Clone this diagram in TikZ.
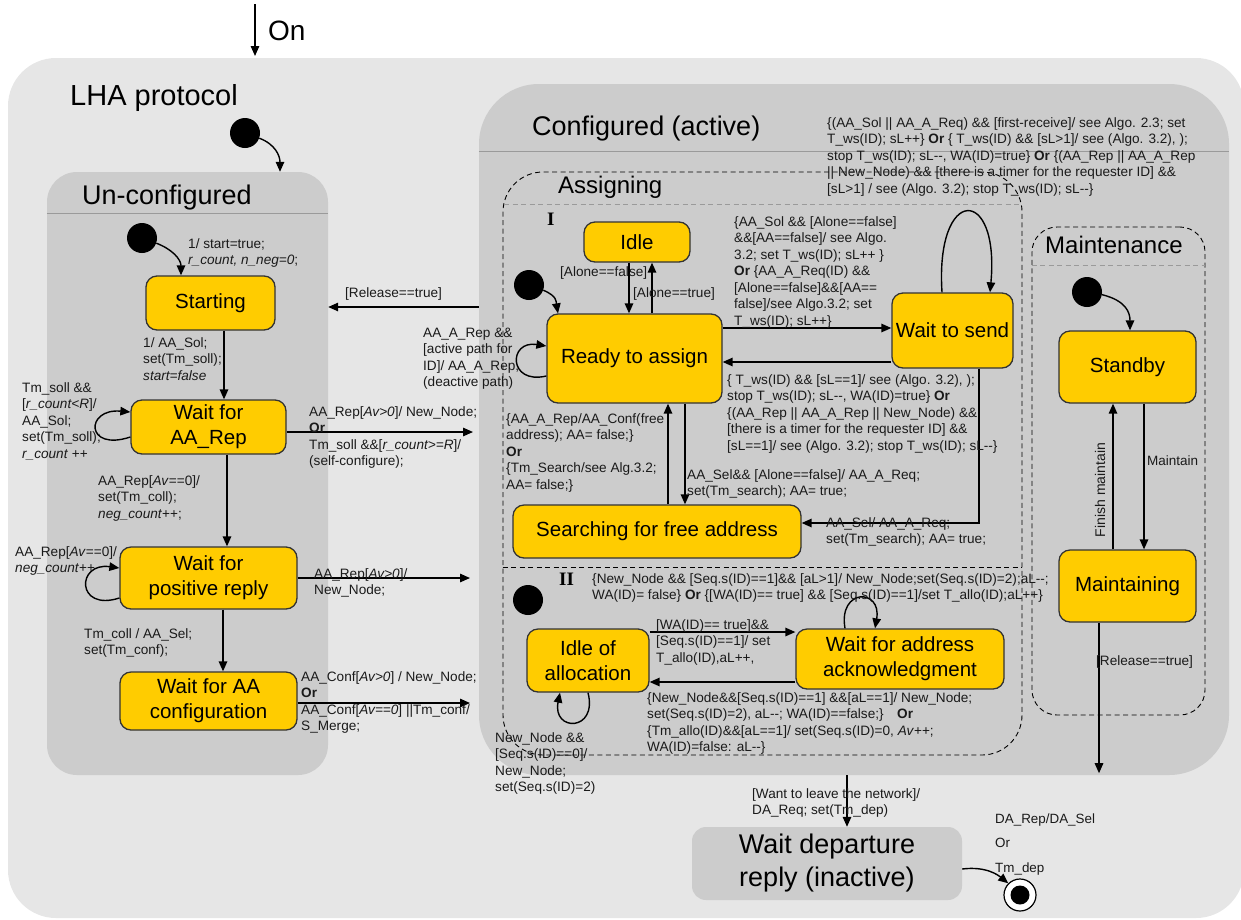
\documentclass[tikz,border=0pt]{standalone}
\usepackage{fontspec}
\setmainfont{Liberation Sans}
\newfontfamily\romanfont{Liberation Serif}
\usetikzlibrary{arrows.meta,calc}
\definecolor{outergray}{HTML}{E6E6E6}
\definecolor{boxgray}{HTML}{CCCCCC}
\definecolor{stateyellow}{HTML}{FFCC00}
\definecolor{edgegray}{HTML}{333333}
\definecolor{rulegray}{HTML}{9A9A9A}
\definecolor{inkgray}{HTML}{1A1A1A}
% two hyphens that must not merge into a dash
\newcommand\dm{-\kern0pt-}
% left aligned block whose baseline is its first line
\newcommand\txtl[1]{\begin{tabular}[t]{@{}l@{}}#1\end{tabular}}

\begin{document}
\begin{tikzpicture}[x=1pt,y=-1pt,
  stbox/.style={draw=edgegray, line width=1.3pt, fill=stateyellow, rounded corners=11pt,
    align=center, font=\fontsize{20.5}{25}\selectfont, inner sep=0pt},
  rbox/.style={fill=boxgray, rounded corners=#1, inner sep=0pt},
  dbox/.style={draw=black, line width=0.9pt, dash pattern=on 5pt off 3.5pt, rounded corners=#1, inner sep=0pt},
  arr/.style={line width=1.4pt, -{Triangle[length=10pt,width=8.5pt]}},
  lbl/.style={anchor=base west, inner sep=0pt, text=inkgray, font=\fontsize{13.6}{16.5}\selectfont},
  ttl/.style={anchor=base west, inner sep=0pt, font=\fontsize{27}{32}\selectfont},
  startdot/.style={circle, fill=black, minimum size=30pt, inner sep=0pt},
  romanlbl/.style={anchor=base west, inner sep=0pt, font=\romanfont\bfseries\fontsize{19}{22}\selectfont},
]
\useasboundingbox (0,0) rectangle (1241,919);

% ---------- containers ----------
\node[rbox=48pt, fill=outergray, minimum width=1236pt, minimum height=860pt] (lha) at (626,488) {};
\node[rbox=30pt, minimum width=281pt, minimum height=603pt] (unconf) at (187.5,473.5) {};
\node[rbox=60pt, minimum width=750pt, minimum height=691pt] (conf) at (854,429.5) {};
\node[dbox=40pt, minimum width=519pt, minimum height=583pt] (assign) at (762.5,463.5) {};
\node[dbox=25pt, minimum width=173pt, minimum height=488pt] (mbox) at (1118.5,471) {};

% header rules
\coordinate (ruA) at (0,213);
\coordinate (ruB) at (0,151);
\draw[rulegray, line width=1pt] (unconf.west |- ruA) -- (unconf.east |- ruA);
\draw[rulegray, line width=1pt] (conf.west |- ruB) -- (conf.east |- ruB);
\coordinate (ruC1) at (504,204);
\coordinate (ruC2) at (1021,204);
\draw[rulegray, line width=0.9pt, dash pattern=on 5pt off 3.5pt] (ruC1) -- (ruC2);
\coordinate (ruD) at (0,567);
\draw[black, line width=0.9pt, dash pattern=on 5pt off 3.5pt] (assign.west |- ruD) -- (assign.east |- ruD);
\coordinate (ruE) at (0,265);
\draw[rulegray, line width=0.9pt, dash pattern=on 5pt off 3.5pt] (mbox.west |- ruE) -- (mbox.east |- ruE);

% ---------- titles ----------
\node[anchor=base west, inner sep=0pt, font=\fontsize{28}{32}\selectfont] (ontxt) at (268,40) {On};
\node[ttl, font=\fontsize{29}{34}\selectfont] (lhatxt) at (70,105.5) {LHA protocol};
\node[ttl] (conftxt) at (532,135.5) {Configured (active)};
\node[ttl] (unconftxt) at (82,204.5) {Un-configured};
\node[ttl, font=\fontsize{24}{28}\selectfont] (assigntxt) at (558,193) {Assigning};
\node[ttl, font=\fontsize{24}{28}\selectfont] (mtxt) at (1045,253.5) {Maintenance};
\node[romanlbl] (rI) at (547,225) {I};
\node[romanlbl] (rII) at (559,585) {II};

% ---------- states ----------
\node[stbox, minimum width=129pt, minimum height=54pt] (start) at (210.5,303) {Starting};
\node[stbox, minimum width=155pt, minimum height=54pt] (waitrep) at (208.5,427) {Wait for\\AA\_Rep};
\node[stbox, minimum width=177pt, minimum height=62pt] (waitpos) at (208.5,578) {Wait for\\positive reply};
\node[stbox, minimum width=177pt, minimum height=58pt] (waitconf) at (208.5,701) {Wait for AA\\configuration};
\node[stbox, minimum width=106pt, minimum height=40pt] (idle) at (637,242) {Idle};
\node[stbox, minimum width=175pt, minimum height=89pt] (ready) at (634.5,358.5) {Ready to assign};
\node[stbox, minimum width=121pt, minimum height=75pt] (wsend) at (952.5,330.5) {Wait to send};
\node[stbox, minimum width=288pt, minimum height=53pt] (search) at (657,531.5) {Searching for free address};
\node[stbox, minimum width=122pt, minimum height=63pt] (idlealloc) at (588,660.5) {Idle of\\allocation};
\node[stbox, minimum width=208pt, minimum height=60pt] (waitack) at (900,659) {Wait for address\\acknowledgment};
\node[stbox, minimum width=137pt, minimum height=72pt] (standby) at (1127.5,367) {Standby};
\node[stbox, minimum width=137pt, minimum height=72pt] (maint) at (1127.5,586) {Maintaining};
\node[fill=boxgray, rounded corners=14pt, minimum width=270pt, minimum height=73pt, inner sep=0pt,
  align=center, font=\fontsize{27}{33}\selectfont] (depart) at (827,863.5) {Wait departure\\reply (inactive)};

% initial and final pseudo-states
\node[startdot] (d0) at (245,133) {};
\node[startdot] (d1) at (142,238) {};
\node[startdot] (d2) at (529,285) {};
\node[startdot] (d3) at (1087,292) {};
\node[startdot] (d4) at (528,600) {};
\node[circle, draw=black, line width=1.2pt, fill=white, minimum size=32pt, inner sep=0pt] (fin) at (1020,895) {};
\node[circle, fill=black, minimum size=19pt, inner sep=0pt] (finin) at (fin) {};

% ---------- connectors ----------
\coordinate (onTop) at (255,4);
\coordinate (onEnd) at (255,56);
\draw[arr] (onTop) -- (onEnd);

\draw[arr] (d0.-20) .. controls +(16,6) and +(0,-16) .. ([xshift=92.5pt]unconf.north);
\draw[arr] (d1.-20) .. controls +(16,6) and +(0,-16) .. ([xshift=-29.5pt]start.north);
\draw[arr] (d2.-20) .. controls +(14,6) and +(-2,-12) .. ([xshift=-76.5pt]ready.north);
\draw[arr] (d3.-10) .. controls +(24,6) and +(0,-18) .. ([xshift=2.5pt]standby.north);

% un-configured column
\coordinate (xA) at (224,0);
\coordinate (xB) at (227,0);
\coordinate (xC) at (223,0);
\draw[arr] (start.south -| xA) -- (waitrep.north -| xA);
\draw[arr] (waitrep.south -| xB) -- (waitpos.north -| xB);
\draw[arr] (waitpos.south -| xC) -- (waitconf.north -| xC);
\draw[arr] ([yshift=-10pt]waitrep.west) .. controls (85,452) and (85,408) .. ([yshift=15pt]waitrep.west);
\draw[arr] ([yshift=-20pt]waitpos.west) .. controls (76,612) and (76,562) .. ([yshift=10pt]waitpos.west);

% exits towards the configured state
\coordinate (e1) at (473,432);
\coordinate (e2) at (470,578);
\coordinate (e3) at (470,703);
\draw[arr] (waitrep.east |- e1) -- (e1);
\draw[arr] (waitpos.east |- e2) -- (e2);
\draw[arr] (waitconf.east |- e3) -- (e3);
\coordinate (rl) at (0,307);
\draw[arr] (conf.west |- rl) -- (unconf.east |- rl);

% region I
\coordinate (xI1) at (629,0);
\coordinate (xI2) at (652,0);
\draw[arr] (idle.south -| xI1) -- (ready.north -| xI1);
\draw[arr] (ready.north -| xI2) -- (idle.south -| xI2);
\coordinate (xS1) at (668,0);
\coordinate (xS2) at (685,0);
\draw[arr] (search.north -| xS1) -- (ready.south -| xS1);
\draw[arr] (ready.south -| xS2) -- (search.north -| xS2);
\coordinate (yR1) at (0,328);
\coordinate (yR2) at (0,362);
\draw[arr] (ready.east |- yR1) -- (wsend.west |- yR1);
\draw[arr] (wsend.west |- yR2) -- (ready.east |- yR2);
\draw[arr] ([yshift=-17.5pt]ready.west) .. controls (508,385) and (508,340) .. ([yshift=12.5pt]ready.west);
\draw[arr] ([xshift=-10.5pt]wsend.north) .. controls (935,185) and (1000,185) .. ([xshift=37.5pt]wsend.north);
\coordinate (k1) at (979,523);
\draw[arr] (wsend.south -| k1) -- (k1) -- (search.east |- k1);

% region II
\coordinate (yA1) at (0,632);
\coordinate (yA2) at (0,682);
\draw[arr] (idlealloc.east |- yA1) -- (waitack.west |- yA1);
\draw[arr] (waitack.west |- yA2) -- (idlealloc.east |- yA2);
\draw[arr] ([xshift=-55pt]waitack.north) .. controls (838,588) and (882,588) .. ([xshift=-25pt]waitack.north);
\draw[arr] (idlealloc.south) .. controls (598,732) and (552,732) .. ([xshift=-28pt]idlealloc.south);

% maintenance
\coordinate (xM1) at (1113,0);
\coordinate (xM2) at (1144,0);
\draw[arr] (maint.north -| xM1) -- (standby.south -| xM1);
\draw[arr] (standby.south -| xM2) -- (maint.north -| xM2);
\coordinate (xr) at (1099,0);
\draw[arr] (maint.south -| xr) -- ([yshift=2pt]conf.south -| xr);

% leaving
\coordinate (xd) at (847,0);
\draw[arr] (conf.south -| xd) -- (depart.north -| xd);
\draw[arr] ([yshift=-5.5pt]depart.east) .. controls (986,866) and (998,875) .. (fin.135);

% ---------- transition labels ----------
\node[lbl] (t1) at (188,248) {\txtl{1/ start=true;\\\textit{r\_count, n\_neg=0};}};
\node[lbl] (t2) at (143,347) {\txtl{1/ AA\_Sol;\\set(Tm\_soll);\\\textit{start=false}}};
\node[lbl] (t3) at (22,392) {\txtl{Tm\_soll \&\&\\{}[\textit{r\_count<R}]/\\AA\_Sol;\\set(Tm\_soll);\\\textit{r\_count} ++}};
\node[lbl] (t4) at (98,485) {\txtl{AA\_Rep[\textit{Av}==0]/\\set(Tm\_coll);\\\textit{neg\_count}++;}};
\node[lbl] (t5) at (15,556) {\txtl{AA\_Rep[\textit{Av}==0]/\\\textit{neg\_count}++}};
\node[lbl] (t6) at (84,638) {\txtl{Tm\_coll / AA\_Sel;\\set(Tm\_conf);}};
\node[lbl] (t7) at (309,416) {\txtl{AA\_Rep[\textit{Av>0}]/ New\_Node;\\\textbf{Or}\\Tm\_soll \&\&[\textit{r\_count>=R}]/\\(self-configure);}};
\node[lbl] (t8) at (314,578) {\txtl{AA\_Rep[\textit{Av>0}]/\\New\_Node;}};
\node[lbl] (t9) at (301,681) {\txtl{AA\_Conf[\textit{Av>0}] / New\_Node;\\\textbf{Or}\\AA\_Conf[\textit{Av==0}] ||Tm\_conf/\\S\_Merge;}};
\node[lbl] (t10) at (345,297) {[Release==true]};
\node[lbl] (t11) at (423,337) {\txtl{AA\_A\_Rep \&\&\\{}[active path for\\ID]/ AA\_A\_Rep,\\(deactive path)}};
\node[lbl] (t12) at (506,423) {\txtl{\{AA\_A\_Rep/AA\_Conf(free\\address); AA= false;\}\\\textbf{Or}\\\{Tm\_Search/see Alg.3.2;\\AA= false;\}}};
\node[lbl] (t13) at (560,276) {[Alone==false]};
\node[lbl] (t14) at (633,297) {[Alone==true]};
\node[lbl] (t15) at (734,226) {\txtl{\{AA\_Sol \&\& [Alone==false]\\\&\&[AA==false]/ see Algo.\\3.2; set T\_ws(ID); sL++ \}\\\textbf{Or} \{AA\_A\_Req(ID) \&\&\\{}[Alone==false]\&\&[AA==\\false]/see Algo.3.2; set\\T\_ws(ID); sL++\}}};
\node[lbl] (t16) at (727,384) {\txtl{\{ T\_ws(ID) \&\& [sL==1]/ see (Algo. 3.2), );\\stop T\_ws(ID); sL\dm, WA(ID)=true\} \textbf{Or}\\\{(AA\_Rep || AA\_A\_Rep || New\_Node) \&\&\\{}[there is a timer for the requester ID] \&\&\\{}[sL==1]/ see (Algo. 3.2); stop T\_ws(ID); sL\dm\}}};
\node[lbl] (t17) at (687,479) {\txtl{AA\_Sel\&\& [Alone==false]/ AA\_A\_Req;\\set(Tm\_search); AA= true;}};
\node[lbl] (t18) at (826,527) {\txtl{AA\_Sel/ AA\_A\_Req;\\set(Tm\_search); AA= true;}};
\node[lbl] (t19) at (827,127) {\txtl{\{(AA\_Sol || AA\_A\_Req) \&\& [first-receive]/ see Algo. 2.3; set\\T\_ws(ID); sL++\} \textbf{Or} \{ T\_ws(ID) \&\& [sL>1]/ see (Algo. 3.2), );\\stop T\_ws(ID); sL\dm, WA(ID)=true\} \textbf{Or} \{(AA\_Rep || AA\_A\_Rep\\|| New\_Node) \&\& [there is a timer for the requester ID] \&\&\\{}[sL>1] / see (Algo. 3.2); stop T\_ws(ID); sL\dm\}}};
\node[lbl] (t20) at (592,583) {\txtl{\{New\_Node \&\& [Seq.s(ID)==1]\&\& [aL>1]/ New\_Node;set(Seq.s(ID)=2);aL\dm;\\WA(ID)= false\} \textbf{Or} \{[WA(ID)== true] \&\& [Seq.s(ID)==1]/set T\_allo(ID);aL++\}}};
\node[lbl] (t21) at (656,629) {\txtl{[WA(ID)== true]\&\&\\{}[Seq.s(ID)==1]/ set\\T\_allo(ID),aL++,}};
\node[lbl] (t22) at (647,702) {\txtl{\{New\_Node\&\&[Seq.s(ID)==1] \&\&[aL==1]/ New\_Node;\\set(Seq.s(ID)=2), aL\dm; WA(ID)==false;\}\quad\textbf{Or}\\\{Tm\_allo(ID)\&\&[aL==1]/ set(Seq.s(ID)=0, \textit{Av}++;\\WA(ID)=false: aL\dm\}}};
\node[lbl] (t23) at (495,742) {\txtl{New\_Node \&\&\\{}[Seq.s(ID)==0]/\\New\_Node;\\set(Seq.s(ID)=2)}};
\node[lbl] (t24) at (752,798) {\txtl{[Want to leave the network]/\\DA\_Req; set(Tm\_dep)}};
\node[lbl, font=\fontsize{13.4}{24.5}\selectfont] (t25) at (995,823) {\txtl{DA\_Rep/DA\_Sel\\Or\\Tm\_dep}};
\node[lbl] (t26) at (1096,665) {[Release==true]};
\node[lbl, font=\fontsize{13.5}{16}\selectfont] (t27) at (1147,465) {Maintain};
\node[inner sep=0pt, rotate=90, text=inkgray, font=\fontsize{14}{16}\selectfont] (t28) at (1100,490) {Finish maintain};

\end{tikzpicture}
\end{document}
